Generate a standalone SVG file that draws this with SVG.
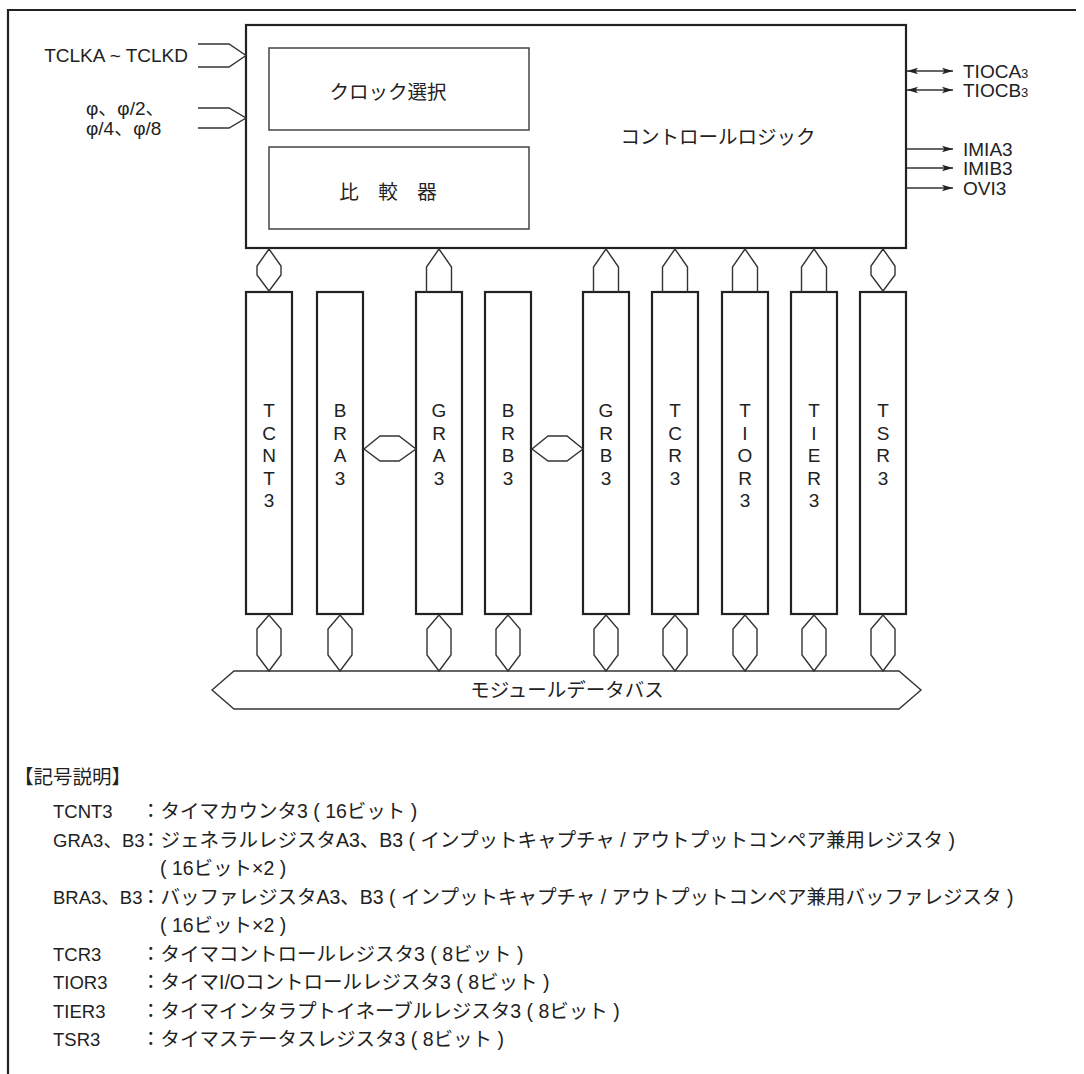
<svg xmlns="http://www.w3.org/2000/svg" width="1084" height="1074" viewBox="0 0 1084 1074">
<style>
  .t{font-family:"Liberation Sans","Noto Sans CJK JP",Arial,sans-serif;fill:#222;}
  .j{font-family:"Noto Sans CJK JP","Liberation Sans",sans-serif;fill:#222;}
  .big{stroke:#222;stroke-width:2.2;fill:#fff;}
  .inner{stroke:#444;stroke-width:1.5;fill:#fff;}
  .reg{stroke:#222;stroke-width:2.2;fill:#fff;}
  .con{stroke:#333;stroke-width:1.4;fill:#fff;stroke-linejoin:miter;}
  .ln{stroke:#333;stroke-width:1.4;fill:none;}
  .rl{font-size:19px;text-anchor:middle;}
  .lg{font-size:19.5px;}
  .lb{font-size:18.5px;}
</style>
<defs>
  <marker id="ah" markerUnits="userSpaceOnUse" markerWidth="12" markerHeight="8" refX="11" refY="4" orient="auto-start-reverse">
    <path d="M0,0.8 L11,4 L0,7.2 L2.5,4 z" fill="#222"/>
  </marker>
</defs>
<rect width="1084" height="1074" fill="#fff"/>
<path d="M8,1074 V10 H1076" fill="none" stroke="#222" stroke-width="2.2"/>

<g id="control-logic">
  <rect class="big" x="246" y="25" width="660" height="223"/>
  <text class="j" x="718" y="144" font-size="19.5" text-anchor="middle">コントロールロジック</text>
</g>
<g id="clock-select">
  <rect class="inner" x="269" y="48" width="260" height="82"/>
  <text class="j" x="388" y="99" font-size="19.5" text-anchor="middle">クロック選択</text>
</g>
<g id="comparator">
  <rect class="inner" x="269" y="147" width="260" height="82"/>
  <text class="j" x="388" y="199" font-size="19.5" text-anchor="middle">比　較　器</text>
</g>

<g id="input-labels">
  <text class="t" x="188" y="62" font-size="19" text-anchor="end">TCLKA ~ TCLKD</text>
  <text class="t" x="86" y="115" font-size="19">φ、φ/2、</text>
  <text class="t" x="86" y="135" font-size="19">φ/4、φ/8</text>
</g>
<g id="output-labels" class="t" font-size="19">
  <text x="963" y="78">TIOCA<tspan font-size="13">3</tspan></text>
  <text x="963" y="97">TIOCB<tspan font-size="13">3</tspan></text>
  <text x="963" y="156">IMIA3</text>
  <text x="963" y="175">IMIB3</text>
  <text x="963" y="195">OVI3</text>
</g>

<g id="TCNT3"><rect class="reg" x="246" y="292" width="46" height="322"/>
  <text class="t rl"><tspan x="269" y="417">T</tspan><tspan x="269" y="439.5">C</tspan><tspan x="269" y="462">N</tspan><tspan x="269" y="484.5">T</tspan><tspan x="269" y="507">3</tspan></text></g>
<g id="BRA3"><rect class="reg" x="317" y="292" width="46" height="322"/>
  <text class="t rl"><tspan x="340" y="417">B</tspan><tspan x="340" y="439.5">R</tspan><tspan x="340" y="462">A</tspan><tspan x="340" y="484.5">3</tspan></text></g>
<g id="GRA3"><rect class="reg" x="416" y="292" width="46" height="322"/>
  <text class="t rl"><tspan x="439" y="417">G</tspan><tspan x="439" y="439.5">R</tspan><tspan x="439" y="462">A</tspan><tspan x="439" y="484.5">3</tspan></text></g>
<g id="BRB3"><rect class="reg" x="485" y="292" width="46" height="322"/>
  <text class="t rl"><tspan x="508" y="417">B</tspan><tspan x="508" y="439.5">R</tspan><tspan x="508" y="462">B</tspan><tspan x="508" y="484.5">3</tspan></text></g>
<g id="GRB3"><rect class="reg" x="583" y="292" width="46" height="322"/>
  <text class="t rl"><tspan x="606" y="417">G</tspan><tspan x="606" y="439.5">R</tspan><tspan x="606" y="462">B</tspan><tspan x="606" y="484.5">3</tspan></text></g>
<g id="TCR3"><rect class="reg" x="652" y="292" width="46" height="322"/>
  <text class="t rl"><tspan x="675" y="417">T</tspan><tspan x="675" y="439.5">C</tspan><tspan x="675" y="462">R</tspan><tspan x="675" y="484.5">3</tspan></text></g>
<g id="TIOR3"><rect class="reg" x="722" y="292" width="46" height="322"/>
  <text class="t rl"><tspan x="745" y="417">T</tspan><tspan x="745" y="439.5">I</tspan><tspan x="745" y="462">O</tspan><tspan x="745" y="484.5">R</tspan><tspan x="745" y="507">3</tspan></text></g>
<g id="TIER3"><rect class="reg" x="791" y="292" width="46" height="322"/>
  <text class="t rl"><tspan x="814" y="417">T</tspan><tspan x="814" y="439.5">I</tspan><tspan x="814" y="462">E</tspan><tspan x="814" y="484.5">R</tspan><tspan x="814" y="507">3</tspan></text></g>
<g id="TSR3"><rect class="reg" x="860" y="292" width="46" height="322"/>
  <text class="t rl"><tspan x="883" y="417">T</tspan><tspan x="883" y="439.5">S</tspan><tspan x="883" y="462">R</tspan><tspan x="883" y="484.5">3</tspan></text></g>

<g id="module-data-bus">
  <polygon class="con" points="212,690 234,671 899,671 921,690 899,709 234,709"/>
  <text class="j" x="567" y="697" font-size="19.5" text-anchor="middle">モジュールデータバス</text>
</g>

<g id="connectors">
  <polyline class="ln" points="198,44 229,44 246,55.5 229,67 198,67"/>
  <polyline class="ln" points="198,108 229,108 246,118 229,128 198,128"/>
  <line class="ln" x1="907" y1="71" x2="953" y2="71" marker-start="url(#ah)" marker-end="url(#ah)"/>
  <line class="ln" x1="907" y1="90" x2="953" y2="90" marker-start="url(#ah)" marker-end="url(#ah)"/>
  <line class="ln" x1="907" y1="149" x2="953" y2="149" marker-end="url(#ah)"/>
  <line class="ln" x1="907" y1="168" x2="953" y2="168" marker-end="url(#ah)"/>
  <line class="ln" x1="907" y1="188" x2="953" y2="188" marker-end="url(#ah)"/>
  <polygon class="con" points="269,249 257,266 257,275 269,291 281,275 281,266"/>
  <polygon class="con" points="883,249 871,266 871,275 883,291 895,275 895,266"/>
  <polyline class="ln" points="426.5,292 426.5,267 439,249 451.5,267 451.5,292"/>
  <polyline class="ln" points="593.5,292 593.5,267 606,249 618.5,267 618.5,292"/>
  <polyline class="ln" points="662.5,292 662.5,267 675,249 687.5,267 687.5,292"/>
  <polyline class="ln" points="732.5,292 732.5,267 745,249 757.5,267 757.5,292"/>
  <polyline class="ln" points="801.5,292 801.5,267 814,249 826.5,267 826.5,292"/>
  <polygon class="con" points="364,449 380,436 399,436 416,449 399,461 380,461"/>
  <polygon class="con" points="532,449 548,436 567,436 583,449 567,461 548,461"/>
  <polygon class="con" points="269,615 257,629 257,655 269,671 281,655 281,629"/>
  <polygon class="con" points="340,615 328,629 328,655 340,671 352,655 352,629"/>
  <polygon class="con" points="439,615 427,629 427,655 439,671 451,655 451,629"/>
  <polygon class="con" points="508,615 496,629 496,655 508,671 520,655 520,629"/>
  <polygon class="con" points="606,615 594,629 594,655 606,671 618,655 618,629"/>
  <polygon class="con" points="675,615 663,629 663,655 675,671 687,655 687,629"/>
  <polygon class="con" points="745,615 733,629 733,655 745,671 757,655 757,629"/>
  <polygon class="con" points="814,615 802,629 802,655 814,671 826,655 826,629"/>
  <polygon class="con" points="883,615 871,629 871,655 883,671 895,655 895,629"/>
</g>

<g id="legend" class="t lg">
  <text x="14" y="784">【記号説明】</text>
  <text class="lb" x="53" y="818">TCNT3</text>
  <text x="141" y="818">：タイマカウンタ3 ( 16ビット )</text>
  <text class="lb" x="53" y="846.5">GRA3、B3</text>
  <text x="141" y="846.5">：ジェネラルレジスタA3、B3 ( インプットキャプチャ / アウトプットコンペア兼用レジスタ )</text>
  <text x="160" y="875">( 16ビット×2 )</text>
  <text class="lb" x="53" y="903.5">BRA3、B3</text>
  <text x="141" y="903.5">：バッファレジスタA3、B3 ( インプットキャプチャ / アウトプットコンペア兼用バッファレジスタ )</text>
  <text x="160" y="932">( 16ビット×2 )</text>
  <text class="lb" x="53" y="960.5">TCR3</text>
  <text x="141" y="960.5">：タイマコントロールレジスタ3 ( 8ビット )</text>
  <text class="lb" x="53" y="989">TIOR3</text>
  <text x="141" y="989">：タイマI/Oコントロールレジスタ3 ( 8ビット )</text>
  <text class="lb" x="53" y="1017.5">TIER3</text>
  <text x="141" y="1017.5">：タイマインタラプトイネーブルレジスタ3 ( 8ビット )</text>
  <text class="lb" x="53" y="1046">TSR3</text>
  <text x="141" y="1046">：タイマステータスレジスタ3 ( 8ビット )</text>
</g>
</svg>
